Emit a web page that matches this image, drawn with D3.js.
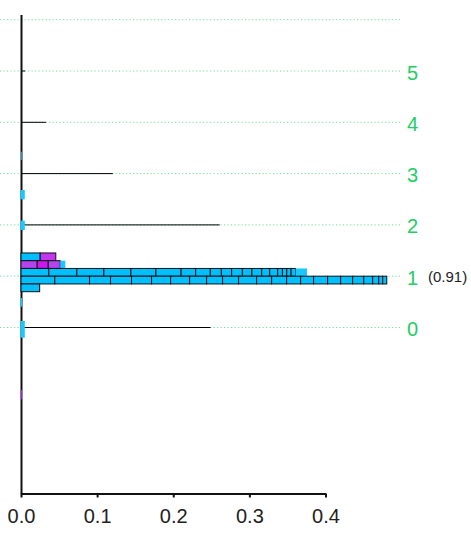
<!DOCTYPE html>
<html>
<head>
<meta charset="utf-8">
<script src="https://cdn.jsdelivr.net/npm/d3@7"></script>
<style>
  html, body { margin: 0; padding: 0; background: #fff; }
  svg { display: block; font-family: "Liberation Sans", Arial, sans-serif; }
</style>
</head>
<body>
<svg id="chart" width="471" height="551"></svg>
<script>
// ---------------- data ----------------
const gridLevels = [0, 1, 2, 3, 4, 5, 6];
const levelLabels = ["0", "1", "2", "3", "4", "5"];
const xTicks = [0, 0.1, 0.2, 0.3, 0.4];

// thin stems at each level
const stemLevels = [0, 2, 3, 4, 5];
const stemValues = [0.249, 0.261, 0.1206, 0.033, 0.0055];

// note next to level 1
const noteLevel = 1;
const noteText = "(0.91)";

// stacked rows around level 1 (row index relative to the level line)
const rowLevel = 1;
const rowIndex = [2, 1, 0, -1, -2];
const rowA = [0.0252, 0.0205];
const rowB = [0.0213, 0.0145, 0.0158, 0.0066];
const rowC = [0.0365, 0.0368, 0.0355, 0.0355, 0.0329, 0.0331, 0.0191, 0.0193, 0.0145, 0.0135,
              0.0141, 0.0125, 0.0129, 0.0105, 0.0105, 0.0062, 0.0057, 0.0057, 0.0058, 0.0152];
const rowD = [0.0444, 0.0456, 0.0276, 0.0276, 0.0263, 0.0250, 0.0250, 0.0223, 0.0210, 0.0210,
              0.0237, 0.0197, 0.0197, 0.0184, 0.0171, 0.0184, 0.0171, 0.0158, 0.0145, 0.0118,
              0.0079, 0.0053, 0.0053];
const rowE = [0.0245];
const kindsA = ["blue", "violet"];
const kindsB = ["purple", "magenta", "purple", "light"];
const kindsC = rowC.map((_, i) => i === rowC.length - 1 ? "light" : "blue");
const kindsD = rowD.map(() => "blue");
const kindsE = ["blue"];
const rowValues = [rowA, rowB, rowC, rowD, rowE];
const rowKinds = [kindsA, kindsB, kindsC, kindsD, kindsE];

// small marks near the axis: [low, high] in level units
const markLow = [3.265, 2.499, 1.901, 0.405, -0.199, -1.40];
const markHigh = [3.427, 2.680, 2.082, 0.575, 0.127, -1.219];
const markValues = [0.001, 0.005, 0.005, 0.0015, 0.005, 0.001];
const markKinds = ["steel", "light", "light", "light", "light", "purple"];

// ---------------- drawing ----------------
const svg = d3.select("#chart");
const x = d3.scaleLinear().domain([0, 0.4]).range([21, 325.5]);
const y = d3.scaleLinear().domain([0, 6]).range([327.5, 19.7]);
const rowH = 0.151;

const color = d3.scaleOrdinal()
  .domain(["blue", "light", "violet", "purple", "magenta", "steel"])
  .range(["#00bfff", "#1ac8ff", "#c236f2", "#b444ee", "#cc18ee", "#5aa9d6"]);
const bordered = k => k !== "light" && k !== "steel";

// gridlines
svg.append("g").selectAll("line").data(gridLevels).join("line")
  .attr("x1", 0).attr("x2", 400)
  .attr("y1", d => y(d)).attr("y2", d => y(d))
  .attr("stroke", "#3fd68a").attr("stroke-opacity", 0.75)
  .attr("stroke-width", 1).attr("stroke-dasharray", "1.2,2.3");

// stems
svg.append("g").selectAll("line").data(stemLevels).join("line")
  .attr("x1", x(0)).attr("x2", (d, i) => x(stemValues[i]))
  .attr("y1", d => y(d)).attr("y2", d => y(d))
  .attr("stroke", "#000").attr("stroke-width", 1);

// vertical axis line
svg.append("line")
  .attr("x1", 21.5).attr("x2", 21.5)
  .attr("y1", 15).attr("y2", 494)
  .attr("stroke", "#111").attr("stroke-width", 2);

// stacked rows
const segs = [];
rowValues.forEach((vals, r) => {
  let cum = 0;
  vals.forEach((v, i) => {
    segs.push({ row: rowIndex[r], x0: cum, x1: cum + v, kind: rowKinds[r][i] });
    cum += v;
  });
});
svg.append("g").selectAll("rect").data(segs).join("rect")
  .attr("x", d => x(d.x0))
  .attr("width", d => x(d.x1) - x(d.x0))
  .attr("y", d => y(rowLevel + (d.row + 1) * rowH))
  .attr("height", d => y(rowLevel + d.row * rowH) - y(rowLevel + (d.row + 1) * rowH))
  .attr("fill", d => color(d.kind))
  .attr("stroke", d => bordered(d.kind) ? "#111" : "none")
  .attr("stroke-width", 1);

// small marks
svg.append("g").selectAll("rect").data(markValues).join("rect")
  .attr("x", x(0) - 0.5)
  .attr("width", d => x(d) - x(0) + 0.5)
  .attr("y", (d, i) => y(markHigh[i]))
  .attr("height", (d, i) => y(markLow[i]) - y(markHigh[i]))
  .attr("fill", (d, i) => color(markKinds[i]));

// bottom axis
const xAxis = d3.axisBottom(x).tickValues(xTicks).tickFormat(d3.format(".1f")).tickSize(4).tickSizeOuter(0);
const gx = svg.append("g").attr("transform", "translate(0,493.5)").call(xAxis);
gx.select(".domain").attr("stroke", "#111").attr("stroke-width", 2);
gx.selectAll(".tick line").attr("stroke", "#111").attr("stroke-width", 2);
gx.selectAll(".tick text")
  .attr("font-family", "Liberation Sans, Arial, sans-serif")
  .attr("font-size", 20).attr("fill", "#222")
  .attr("y", 29).attr("dy", 0);

// right level labels
svg.append("g").selectAll("text").data(levelLabels).join("text")
  .attr("x", 407)
  .attr("y", (d, i) => y(i) + 8.5)
  .attr("font-size", 20)
  .attr("fill", "#22cc66")
  .text(d => d);

// note
svg.append("text")
  .attr("x", 428).attr("y", y(noteLevel) + 6)
  .attr("font-size", 15).attr("fill", "#222")
  .text(noteText);
</script>
</body>
</html>
